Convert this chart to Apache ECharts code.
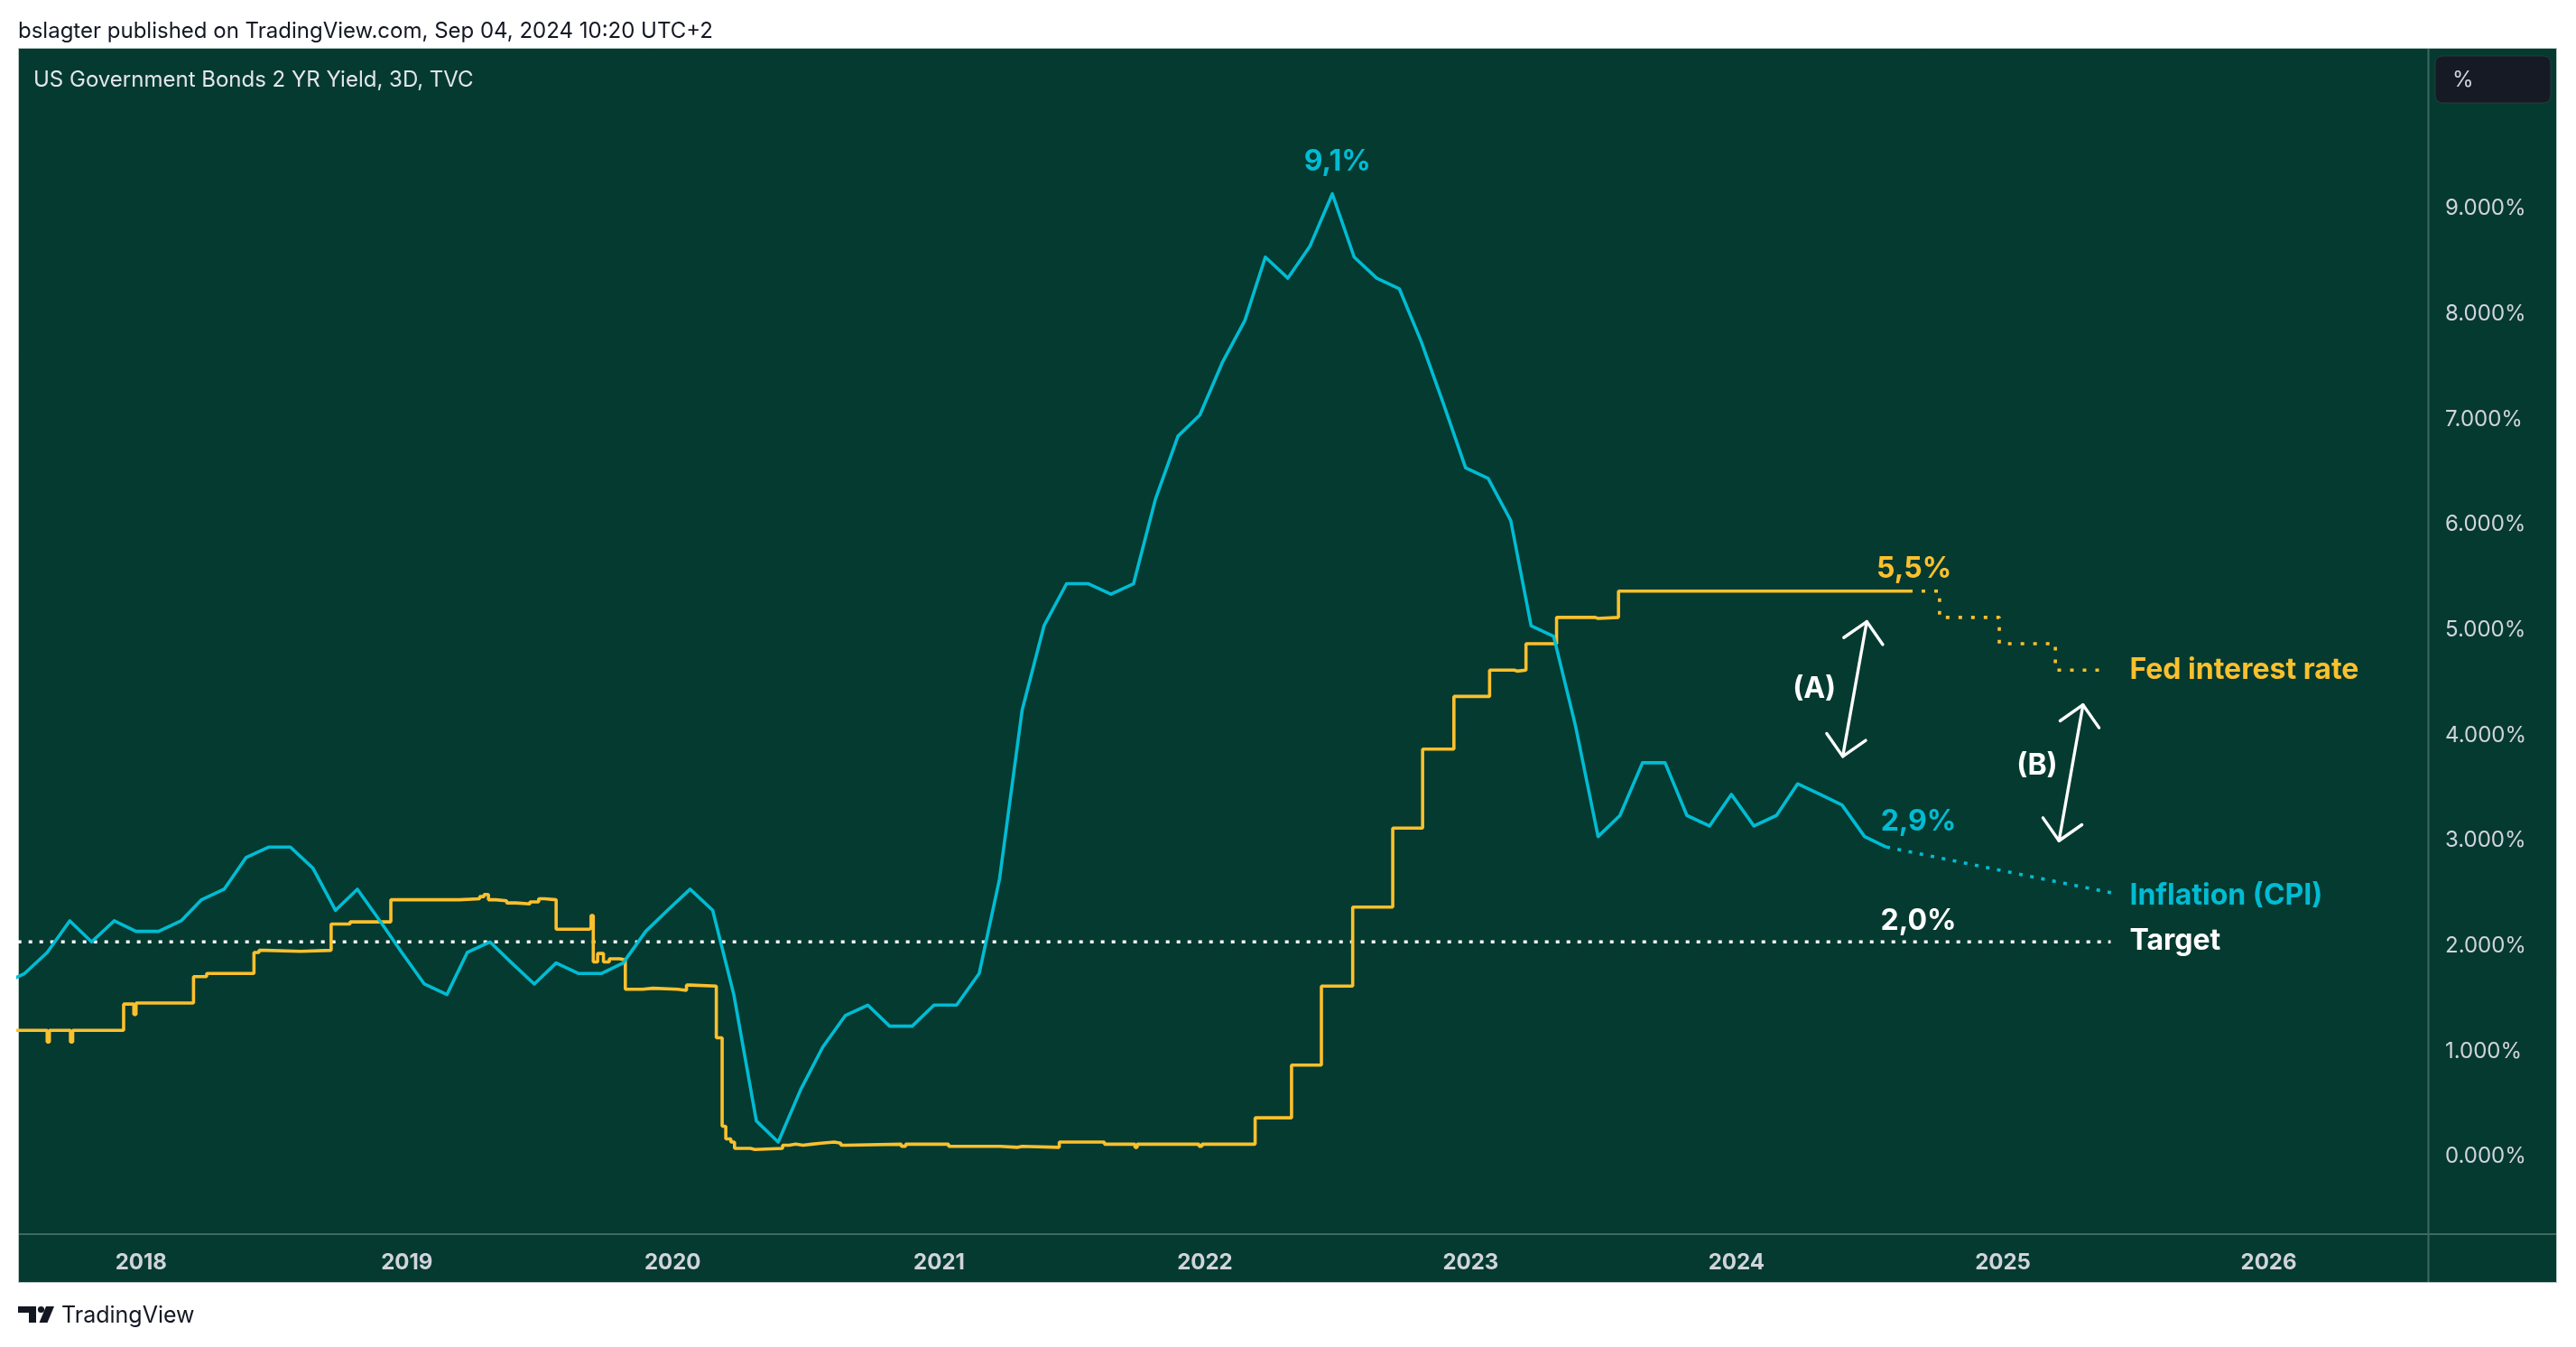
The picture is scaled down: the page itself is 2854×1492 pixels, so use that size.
<!DOCTYPE html>
<html>
<head>
<meta charset="utf-8">
<script src="https://cdn.jsdelivr.net/npm/echarts@6/dist/echarts.min.js"></script>
<style>
html,body{margin:0;padding:0;background:#ffffff;}
#chart{width:2854px;height:1492px;}
</style>
</head>
<body>
<div id="chart"></div>
<script>
// ---------- DATA ----------
const yearTicks = [2018, 2019, 2020, 2021, 2022, 2023, 2024, 2025, 2026];
const yTicks = [0, 1, 2, 3, 4, 5, 6, 7, 8, 9];

// Monthly US CPI (YoY %), starting June 2017, one value per month (plotted late in the month)
const cpiStartYear = 2017, cpiStartMonth = 6;
const cpiValues = [
  1.6, 1.7, 1.9, 2.2, 2.0, 2.2, 2.1,                         // 2017 Jun-Dec
  2.1, 2.2, 2.4, 2.5, 2.8, 2.9, 2.9, 2.7, 2.3, 2.5, 2.2, 1.9, // 2018
  1.6, 1.5, 1.9, 2.0, 1.8, 1.6, 1.8, 1.7, 1.7, 1.8, 2.1, 2.3, // 2019
  2.5, 2.3, 1.5, 0.3, 0.1, 0.6, 1.0, 1.3, 1.4, 1.2, 1.2, 1.4, // 2020
  1.4, 1.7, 2.6, 4.2, 5.0, 5.4, 5.4, 5.3, 5.4, 6.2, 6.8, 7.0, // 2021
  7.5, 7.9, 8.5, 8.3, 8.6, 9.1, 8.5, 8.3, 8.2, 7.7, 7.1, 6.5, // 2022
  6.4, 6.0, 5.0, 4.9, 4.05, 3.0, 3.2, 3.7, 3.7, 3.2, 3.1, 3.4,// 2023
  3.1, 3.2, 3.5, 3.4, 3.3, 3.0, 2.9                           // 2024 Jan-Jul
];

// Fed (effective) interest rate: value holds from each date onward
const fedDates = [
  '2017-06-01','2017-08-25','2017-08-28','2017-09-26','2017-09-29','2017-12-08','2017-12-22','2017-12-25',
  '2018-03-14','2018-04-01','2018-06-05','2018-06-12','2018-06-20','2018-08-08','2018-09-19','2018-10-15',
  '2018-12-10','2019-03-14','2019-04-11','2019-04-17','2019-04-23','2019-05-03','2019-05-18','2019-05-31',
  '2019-06-19','2019-07-01','2019-07-09','2019-07-25','2019-09-08','2019-09-11','2019-09-14','2019-09-20',
  '2019-09-28','2019-10-06','2019-10-20','2019-10-28','2019-11-21','2019-12-05','2020-01-08','2020-01-20',
  '2020-01-26','2020-03-01','2020-03-09','2020-03-14','2020-03-21','2020-03-26','2020-04-17','2020-04-23',
  '2020-05-31','2020-06-09','2020-06-18','2020-06-28','2020-07-10','2020-07-23','2020-08-10','2020-08-19',
  '2020-08-26','2020-11-10','2020-11-16','2021-01-14','2021-03-26','2021-04-19','2021-04-25','2021-06-15',
  '2021-08-16','2021-09-27','2021-09-30','2021-12-24','2021-12-28','2022-03-11','2022-04-30','2022-06-10',
  '2022-07-23','2022-09-16','2022-10-27','2022-12-09','2023-01-27','2023-03-02','2023-03-06','2023-03-18',
  '2023-04-29','2023-06-21','2023-06-25','2023-07-23','2024-08-25'
];
const fedRates = [
  1.16, 1.05, 1.16, 1.05, 1.16, 1.41, 1.31, 1.42,
  1.67, 1.70, 1.90, 1.92, 1.91, 1.92, 2.17, 2.19,
  2.40, 2.41, 2.43, 2.45, 2.40, 2.39, 2.37, 2.36,
  2.38, 2.41, 2.40, 2.12, 2.13, 2.25, 1.81, 1.89,
  1.81, 1.84, 1.83, 1.55, 1.56, 1.55, 1.54, 1.59,
  1.58, 1.09, 0.25, 0.13, 0.10, 0.04, 0.03, 0.04,
  0.07, 0.08, 0.07, 0.08, 0.09, 0.10, 0.09, 0.07,
  0.08, 0.06, 0.08, 0.06, 0.05, 0.06, 0.05, 0.10,
  0.08, 0.05, 0.08, 0.06, 0.08, 0.33, 0.83, 1.58,
  2.33, 3.08, 3.83, 4.33, 4.58, 4.57, 4.58, 4.83,
  5.08, 5.07, 5.08, 5.33, 5.33
];

// Projections (dotted)
const fedProjDates = ['2024-08-25', '2024-10-06', '2024-12-27', '2025-03-14', '2025-05-23'];
const fedProjRates = [5.33, 5.08, 4.83, 4.58, 4.58];
const cpiProjDates = ['2024-07-25', '2025-06-03'];
const cpiProjValues = [2.9, 2.46];
const targetDates = ['2017-06-01', '2025-05-29'];
const targetValues = [2.0, 2.0];

// Double-headed arrows (A) and (B): [top date, top value], [bottom date, bottom value]
const arrowTops = [['2024-06-28', 5.04], ['2025-04-21', 4.25]];
const arrowBottoms = [['2024-05-26', 3.76], ['2025-03-19', 2.96]];

// Text annotations
const noteTexts  = ['9,1%', '5,5%', '2,9%', '2,0%', '(A)', '(B)', 'Fed interest rate', 'Inflation (CPI)', 'Target'];
const noteDates  = ['2022-07-02', '2024-09-01', '2024-09-07', '2024-09-07', '2024-04-17', '2025-02-17', '2025-06-24', '2025-06-24', '2025-06-24'];
const noteValues = [9.40, 5.54, 3.14, 2.20, 4.40, 3.67, 4.58, 2.44, 2.01];
const noteColors = ['cyan', 'yellow', 'cyan', 'white', 'white', 'white', 'yellow', 'cyan', 'white'];
const noteAlign  = ['center', 'center', 'center', 'center', 'center', 'center', 'left', 'left', 'left'];

// ---------- STYLE ----------
const C = {
  bg: '#053a30', sep: '#3d6a60', axisText: '#d1d4dc', title: '#e3e6ec',
  cyan: '#00bcd4', yellow: '#fbc02d', white: '#ffffff', dark: '#131722'
};
const FONT = 'Inter, "Noto Sans", Roboto, sans-serif';
const colorOf = k => ({cyan: C.cyan, yellow: C.yellow, white: C.white})[k];

const ts = d => Date.parse(d);
const cpiData = cpiValues.map((v, i) => {
  const m0 = cpiStartMonth - 1 + i;
  return [Date.UTC(cpiStartYear + Math.floor(m0 / 12), m0 % 12, 25), v];
});
const fedData = fedDates.map((d, i) => [ts(d), fedRates[i]]);
const fedProj = fedProjDates.map((d, i) => [ts(d), fedProjRates[i]]);
const cpiProj = cpiProjDates.map((d, i) => [ts(d), cpiProjValues[i]]);
const target = targetDates.map((d, i) => [ts(d), targetValues[i]]);
const arrows = arrowTops.map((t, i) => [ts(t[0]), t[1], ts(arrowBottoms[i][0]), arrowBottoms[i][1]]);
const notes = noteTexts.map((t, i) => [ts(noteDates[i]), noteValues[i]]);

const chart = echarts.init(document.getElementById('chart'), null, {renderer: 'canvas'});

const option = {
  backgroundColor: '#ffffff',
  animation: false,
  grid: {left: 20, top: 53, right: 163, bottom: 125, containLabel: false},
  xAxis: {
    type: 'value',
    min: Date.UTC(2017, 6, 16),
    max: Date.UTC(2026, 7, 9),
    axisLine: {show: false}, axisTick: {show: false}, splitLine: {show: false},
    axisLabel: {
      customValues: yearTicks.map(y => Date.UTC(y, 0, 1)),
      formatter: v => String(new Date(v).getUTCFullYear()),
      color: C.axisText, fontFamily: FONT, fontSize: 24, fontWeight: 'bold', margin: 20
    }
  },
  yAxis: {
    type: 'value', position: 'right',
    min: -0.774, max: 10.486,
    axisLine: {show: false}, axisTick: {show: false}, splitLine: {show: false},
    axisLabel: {
      customValues: yTicks,
      formatter: v => '{t|' + v.toFixed(3) + '%}',
      margin: 18,
      rich: {t: {color: C.axisText, fontFamily: FONT, fontSize: 24, padding: [9, 0, 0, 0]}}
    }
  },
  graphic: [
    {type: 'rect', z: -100, shape: {x: 20.5, y: 53.5, width: 2812, height: 1367},
     style: {fill: C.bg, stroke: '#b9c6c2', lineWidth: 1}},
    {type: 'line', z: -50, shape: {x1: 2690.5, y1: 54, x2: 2690.5, y2: 1420}, style: {stroke: C.sep, lineWidth: 2}},
    {type: 'line', z: -50, shape: {x1: 21, y1: 1367, x2: 2832, y2: 1367}, style: {stroke: C.sep, lineWidth: 2}},
    {type: 'text', x: 20, y: 35, style: {text: 'bslagter published on TradingView.com, Sep 04, 2024 10:20 UTC+2',
      fill: C.dark, font: '24px ' + FONT, verticalAlign: 'middle', align: 'left'}},
    {type: 'text', x: 37, y: 89, style: {text: 'US Government Bonds 2 YR Yield, 3D, TVC',
      fill: C.title, font: '24px ' + FONT, verticalAlign: 'middle', align: 'left'}},
    {type: 'rect', shape: {x: 2698, y: 62, width: 128, height: 52, r: 8},
     style: {fill: '#151a24', stroke: '#2a3a3a', lineWidth: 1}},
    {type: 'text', x: 2717, y: 89, style: {text: '%', fill: C.axisText, font: '24px ' + FONT, verticalAlign: 'middle'}},
    // footer logo
    {type: 'polygon', shape: {points: [[20, 1447], [40, 1447], [40, 1465], [32, 1465], [32, 1454], [20, 1454]]}, style: {fill: C.dark}},
    {type: 'circle', shape: {cx: 45.5, cy: 1450.5, r: 3.6}, style: {fill: C.dark}},
    {type: 'polygon', shape: {points: [[51, 1447], [60, 1447], [52.5, 1465], [43.5, 1465]]}, style: {fill: C.dark}},
    {type: 'text', x: 68, y: 1457, style: {text: 'TradingView', fill: C.dark, font: '25px ' + FONT, verticalAlign: 'middle'}}
  ],
  series: [
    {name: 'Target', type: 'line', data: target, showSymbol: false, silent: true, z: 3,
     lineStyle: {color: C.white, width: 3.4, type: [4, 8], cap: 'butt'}},
    {name: 'Fed interest rate', type: 'line', data: fedData, step: 'end', showSymbol: false, silent: true, z: 4,
     lineStyle: {color: C.yellow, width: 3.6}},
    {name: 'Fed projection', type: 'line', data: fedProj, step: 'end', showSymbol: false, silent: true, z: 4,
     lineStyle: {color: C.yellow, width: 3.6, type: [4, 10], cap: 'butt'}},
    {name: 'Inflation (CPI)', type: 'line', data: cpiData, showSymbol: false, silent: true, z: 5,
     lineStyle: {color: C.cyan, width: 3.6, join: 'round'}},
    {name: 'CPI projection', type: 'line', data: cpiProj, showSymbol: false, silent: true, z: 5,
     lineStyle: {color: C.cyan, width: 3.6, type: [4, 8.5], cap: 'butt'}},
    {name: 'Arrows', type: 'custom', coordinateSystem: 'cartesian2d', clip: false, silent: true, z: 6,
     encode: {x: [0, 2], y: [1, 3]},
     data: arrows,
     renderItem: (params, api) => {
       const a = api.coord([api.value(0), api.value(1)]);
       const b = api.coord([api.value(2), api.value(3)]);
       const dx = b[0] - a[0], dy = b[1] - a[1];
       const len = Math.sqrt(dx * dx + dy * dy);
       const ux = dx / len, uy = dy / len;
       const L = 31, ang = Math.PI / 4;
       const rot = (x, y, t) => [x * Math.cos(t) - y * Math.sin(t), x * Math.sin(t) + y * Math.cos(t)];
       const head = (p, vx, vy) => {
         const r1 = rot(vx, vy, ang), r2 = rot(vx, vy, -ang);
         return [[p[0] + r1[0] * L, p[1] + r1[1] * L], p, [p[0] + r2[0] * L, p[1] + r2[1] * L]];
       };
       const st = {stroke: C.white, lineWidth: 3.4, fill: null, lineCap: 'round', lineJoin: 'round'};
       return {type: 'group', children: [
         {type: 'line', shape: {x1: a[0], y1: a[1], x2: b[0], y2: b[1]}, style: st},
         {type: 'polyline', shape: {points: head(a, ux, uy)}, style: st},
         {type: 'polyline', shape: {points: head(b, -ux, -uy)}, style: st}
       ]};
     }},
    {name: 'Notes', type: 'custom', coordinateSystem: 'cartesian2d', clip: false, silent: true, z: 7,
     data: notes,
     renderItem: (params, api) => {
       const i = params.dataIndex;
       const p = api.coord([api.value(0), api.value(1)]);
       return {type: 'text', x: p[0], y: p[1], style: {
         text: noteTexts[i], fill: colorOf(noteColors[i]),
         font: 'bold 32px ' + FONT, align: noteAlign[i], verticalAlign: 'middle'}};
     }}
  ]
};
chart.setOption(option);
</script>
</body>
</html>
